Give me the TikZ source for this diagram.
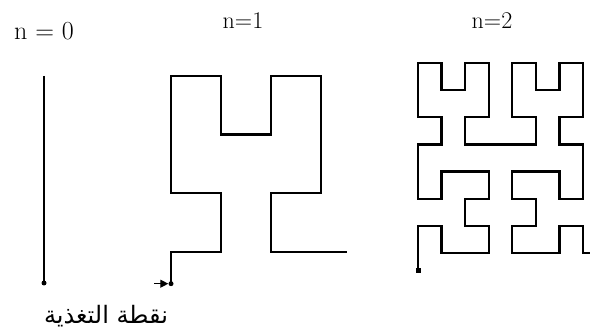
\documentclass[tikz,border=0pt]{standalone}
\usepackage{fontspec}
\newfontfamily\arabicfont[Script=Arabic]{DejaVu Sans}
\TeXXeTstate=1
\usetikzlibrary{arrows.meta}

\begin{document}
\begin{tikzpicture}[
    x=1pt, y=-1pt,
    curve/.style={line width=2.2pt, line join=miter},
    feeddot/.style={circle, fill=black, inner sep=0pt, minimum size=5pt},
    title/.style={font=\fontsize{24}{28}\selectfont, inner sep=0pt}
]
    \useasboundingbox (0,0) rectangle (590,334);

    % Headers
    \node[title, font=\fontsize{26}{30}\selectfont] (t0) at (44,31.5) {n = 0};
    \node[title] (t1) at (243,20.5) {n=1};
    \node[title] (t2) at (492,21) {n=2};

    % n = 0
    \draw[curve] (44,76) -- (44,283);
    \node[feeddot] (f0) at (44,283) {};

    % n = 1
    \begin{scope}[shift={(171pt,-252pt)}, x=50pt, y=58.7pt]
        \draw[curve] (0,-0.54) -- (0,0) -- (1,0) -- (1,1) -- (0,1) -- (0,3) -- (1,3) -- (1,2)
            -- (2,2) -- (2,3) -- (3,3) -- (3,1) -- (2,1) -- (2,0) -- (3.52,0);
        \node[feeddot] (f1) at (0,-0.54) {};
        \coordinate (feed) at (-0.34,-0.54);
        \draw[-{Triangle[length=8pt,width=8pt]}, line width=1.2pt] (feed) -- (f1.west);
    \end{scope}

    % n = 2
    \begin{scope}[shift={(418pt,-253pt)}, x=23.57pt, y=27.14pt]
        \draw[curve] (0,-0.63) -- (0,1) -- (1,1) -- (1,0) -- (3,0) -- (3,1) -- (2,1) -- (2,2)
            -- (3,2) -- (3,3) -- (1,3) -- (1,2) -- (0,2) -- (0,4) -- (1,4) -- (1,5) -- (0,5)
            -- (0,7) -- (1,7) -- (1,6) -- (2,6) -- (2,7) -- (3,7) -- (3,5) -- (2,5) -- (2,4)
            -- (5,4) -- (5,5) -- (4,5) -- (4,7) -- (5,7) -- (5,6) -- (6,6) -- (6,7) -- (7,7)
            -- (7,5) -- (6,5) -- (6,4) -- (7,4) -- (7,2) -- (6,2) -- (6,3) -- (4,3) -- (4,2)
            -- (5,2) -- (5,1) -- (4,1) -- (4,0) -- (6,0) -- (6,1) -- (7,1) -- (7,0) -- (7.3,0);
        \node[feeddot, rectangle, minimum size=5pt] (f2) at (0,-0.63) {};
    \end{scope}

    % Annotation
    \node[font=\fontsize{24}{28}\arabicfont, inner sep=0pt] (feedlabel) at (106,316) {\beginR نقطة التغذية\endR};
\end{tikzpicture}
\end{document}
